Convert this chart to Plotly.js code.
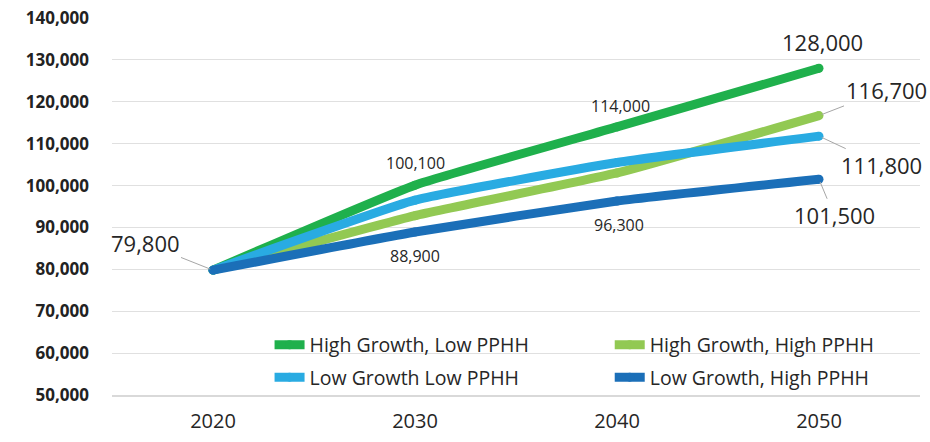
<!DOCTYPE html>
<html>
<head>
<meta charset="utf-8">
<script src="https://cdn.plot.ly/plotly-3.0.1.min.js"></script>
<style>
  html, body { margin: 0; padding: 0; background: #ffffff; }
  #chart { width: 930px; height: 442px; }
</style>
</head>
<body>
<div id="chart"></div>
<script>
// ---- data ----
const years = ["2020", "2030", "2040", "2050"];
const seriesNames = ["High Growth, Low PPHH", "High Growth, High PPHH", "Low Growth Low PPHH", "Low Growth, High PPHH"];
const highGrowthLowPPHH = [79800, 100100, 114000, 128000];
const highGrowthHighPPHH = [79800, 92800, 103000, 116700];
const lowGrowthLowPPHH = [79800, 96500, 105500, 111800];
const lowGrowthHighPPHH = [79800, 88900, 96300, 101500];
const yTickVals = [50000, 60000, 70000, 80000, 90000, 100000, 110000, 120000, 130000, 140000];

const seriesValues = [highGrowthLowPPHH, highGrowthHighPPHH, lowGrowthLowPPHH, lowGrowthHighPPHH];
const colors = ["#1fb04c", "#92c953", "#29abe2", "#1b6fb8"];
const legendIds = ["legend", "legend2", "legend", "legend2"];

const traces = seriesValues.map((vals, i) => ({
  type: "scatter",
  mode: "lines+markers",
  x: years,
  y: vals,
  name: seriesNames[i],
  legend: legendIds[i],
  legendgroup: "g" + i,
  line: { color: colors[i], width: 9, shape: "spline", smoothing: 0.4 },
  marker: { color: colors[i], size: 9 },
  hoverinfo: "x+y+name"
}));

const fmt = v => String(v).replace(/\B(?=(\d{3})+(?!\d))/g, ",");
const txtColor = "#262626";
const bigFont = { family: "Open Sans", size: 22, color: txtColor };
const smallFont = { family: "Open Sans", size: 16, color: txtColor };

// x given as category index so numeric-looking category names are not misread
function label(xi, vals, font, opts) {
  const a = { x: xi, y: vals[xi], xref: "x", yref: "y", text: fmt(vals[xi]), font: font, showarrow: false };
  return Object.assign(a, opts);
}
function leaderLabel(xi, vals, ax, ay) {
  return label(xi, vals, bigFont, { showarrow: true, arrowhead: 0, arrowwidth: 1, arrowcolor: "#a6a6a6", standoff: 3, ax: ax, ay: ay });
}

const annotations = [
  leaderLabel(0, highGrowthLowPPHH, -68, -27),
  label(1, highGrowthLowPPHH, smallFont, { yshift: 22 }),
  label(1, lowGrowthHighPPHH, smallFont, { yshift: -24 }),
  label(2, highGrowthLowPPHH, smallFont, { yshift: 21, xshift: 3 }),
  label(2, lowGrowthHighPPHH, smallFont, { yshift: -24, xshift: 2 }),
  label(3, highGrowthLowPPHH, bigFont, { yshift: 26, xshift: 3 }),
  leaderLabel(3, highGrowthHighPPHH, 67, -26),
  leaderLabel(3, lowGrowthLowPPHH, 62, 29),
  leaderLabel(3, lowGrowthHighPPHH, 15, 36)
];

const legendCommon = {
  orientation: "v",
  yanchor: "top",
  xanchor: "left",
  y: 0.184,
  bgcolor: "rgba(0,0,0,0)",
  borderwidth: 0,
  tracegroupgap: 4,
  font: { family: "Open Sans", size: 19.5, color: txtColor }
};

const layout = {
  width: 930,
  height: 442,
  margin: { l: 112, r: 10, t: 18, b: 47 },
  paper_bgcolor: "#ffffff",
  plot_bgcolor: "#ffffff",
  showlegend: true,
  legend: Object.assign({}, legendCommon, { x: 0.195 }),
  legend2: Object.assign({}, legendCommon, { x: 0.616 }),
  xaxis: {
    type: "category",
    range: [-0.5, 3.5],
    showgrid: false,
    zeroline: false,
    showline: true,
    linecolor: "#d9d9d9",
    linewidth: 2,
    ticks: "",
    ticklabelstandoff: 7,
    tickfont: { family: "Open Sans", size: 20, color: txtColor },
    fixedrange: true
  },
  yaxis: {
    range: [50000, 140000],
    tickvals: yTickVals,
    ticktext: yTickVals.map(fmt),
    showgrid: true,
    gridcolor: "#e0e0e0",
    gridwidth: 1,
    zeroline: false,
    showline: false,
    ticks: "",
    ticklabelstandoff: 22,
    tickfont: { family: "Open Sans", size: 17, color: "#222222", weight: "bold" },
    fixedrange: true
  },
  annotations: annotations
};

Plotly.newPlot("chart", traces, layout, { displayModeBar: false });
</script>
</body>
</html>
